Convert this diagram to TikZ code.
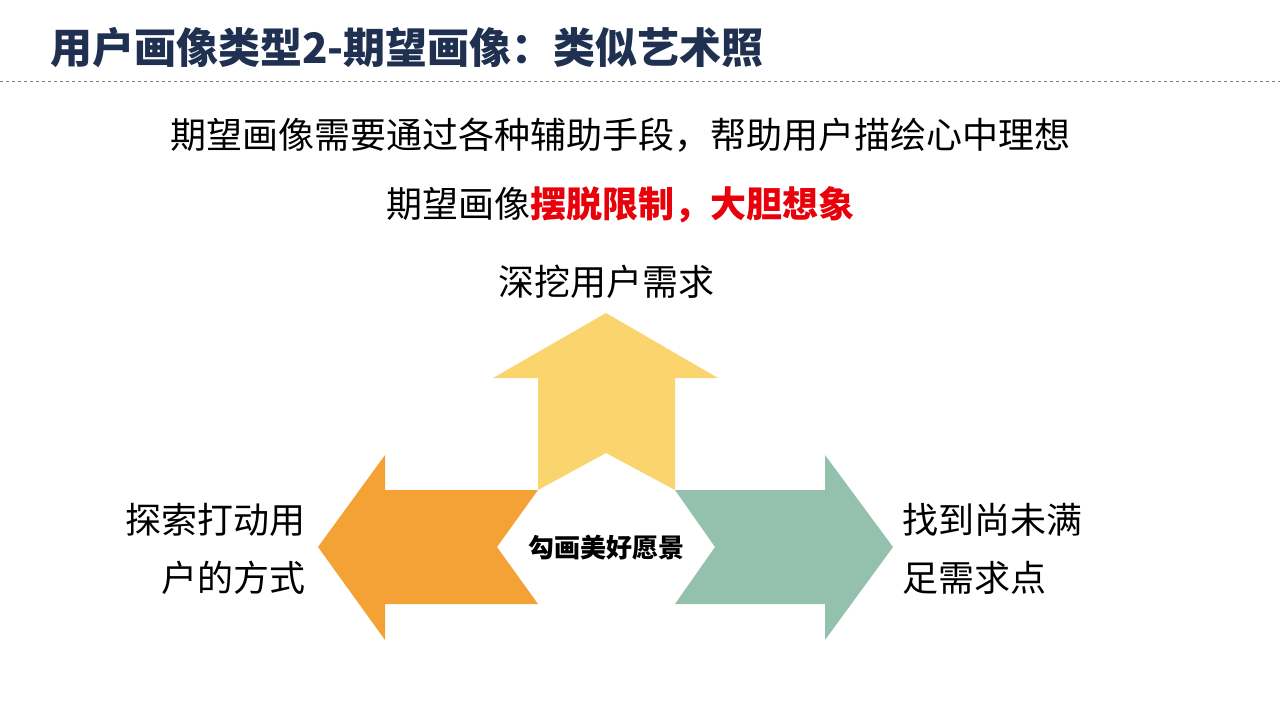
\documentclass[tikz,border=0pt]{standalone}
\usepackage{fontspec}
\setmainfont{Noto Sans CJK SC}
\definecolor{navy}{HTML}{1F3050}
\definecolor{ylw}{HTML}{FAD56E}
\definecolor{org}{HTML}{F4A236}
\definecolor{teal}{HTML}{93C1AE}
\definecolor{red1}{HTML}{E8000B}
\tikzset{body/.style={font=\fontsize{36}{58}\selectfont, text=black, inner sep=0pt}}
\begin{document}
\begin{tikzpicture}[x=1pt,y=-1pt]
\useasboundingbox (0,0) rectangle (1280,720);
\node[anchor=west,font=\fontsize{42}{46}\selectfont\bfseries,text=navy,inner sep=0pt] (title) at (50,48) {用户画像类型2-期望画像：类似艺术照};
\draw[navy!60,dashed,line width=0.8pt] (0,81) -- (1280,81);
\node[body] (l1) at (620,135) {期望画像需要通过各种辅助手段，帮助用户描绘心中理想};
\node[body] (l2) at (620,205) {期望画像{\bfseries\color{red1}摆脱限制，大胆想象}};
\fill[ylw] (606,313) -- (718,378) -- (675,378) -- (675,490) -- (606,453) -- (538,490) -- (538,378) -- (493,378) -- cycle;
\fill[org] (318,547) -- (385,455) -- (385,490) -- (538,490) -- (497,547) -- (538,604) -- (385,604) -- (385,640) -- cycle;
\fill[teal] (893,547) -- (825,455) -- (825,490) -- (675,490) -- (715,547) -- (675,604) -- (825,604) -- (825,640) -- cycle;
\node[font=\fontsize{26}{30}\selectfont\bfseries,inner sep=0pt] (c) at (606,548) {勾画美好愿景};
\node[body] (up) at (606,282) {深挖用户需求};
\node[body,anchor=east,align=right] (lt) at (306,549) {探索打动用\\户的方式};
\node[body,anchor=west,align=left] (rt) at (902,549) {找到尚未满\\足需求点};
\end{tikzpicture}
\end{document}
